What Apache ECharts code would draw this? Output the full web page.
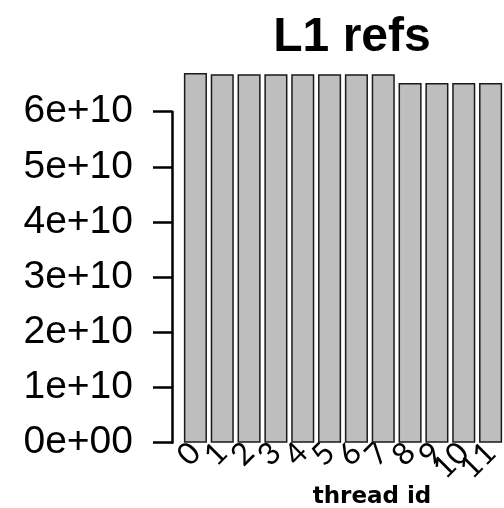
<!DOCTYPE html>
<html>
<head>
<meta charset="utf-8">
<script src="https://cdn.jsdelivr.net/npm/echarts@6/dist/echarts.min.js"></script>
<style>
  html, body { margin: 0; padding: 0; background: #ffffff; }
  #chart { width: 504px; height: 508px; }
</style>
</head>
<body>
<div id="chart"></div>
<script>
// L1 cache references per thread
const threadIds = ['0', '1', '2', '3', '4', '5', '6', '7', '8', '9', '10', '11'];
const l1Refs = [6.70e10, 6.68e10, 6.68e10, 6.68e10, 6.68e10, 6.68e10, 6.68e10, 6.68e10,
                6.52e10, 6.52e10, 6.52e10, 6.52e10];
const yTickValues = [0, 1e10, 2e10, 3e10, 4e10, 5e10, 6e10];
const yTickLabels = ['0e+00', '1e+10', '2e+10', '3e+10', '4e+10', '5e+10', '6e+10'];

const chart = echarts.init(document.getElementById('chart'), null, { renderer: 'canvas' });

chart.setOption({
  animation: false,
  backgroundColor: '#ffffff',
  title: [
    {
      text: 'L1 refs',
      left: 347, top: 9, textAlign: 'center',
      textStyle: { fontFamily: 'Liberation Sans', fontWeight: 'bold', fontSize: 48, color: '#000' }
    },
    {
      text: 'thread id',
      left: 367, top: 481, textAlign: 'center',
      textStyle: { fontFamily: 'DejaVu Sans', fontWeight: 'bold', fontSize: 23, color: '#000' }
    }
  ],
  grid: { left: 182, right: -6, top: 111.7, bottom: 65.3, containLabel: false },
  xAxis: {
    type: 'category',
    data: threadIds,
    axisLine: { show: false },
    axisTick: { show: false },
    axisLabel: {
      interval: 0, rotate: 45, margin: 5,
      fontFamily: 'Lato', fontSize: 31, color: '#000'
    },
    splitLine: { show: false }
  },
  yAxis: {
    type: 'value',
    min: 0, max: 6e10, interval: 1e10,
    offset: 10,
    axisLine: { show: true, lineStyle: { color: '#000', width: 2.5 } },
    axisTick: { show: true, inside: false, length: 19, lineStyle: { color: '#000', width: 2.5 } },
    axisLabel: {
      margin: 39,
      fontFamily: 'Liberation Sans', fontSize: 39, color: '#000',
      formatter: function (v) {
        const i = yTickValues.indexOf(v);
        return i >= 0 ? yTickLabels[i] : '';
      }
    },
    splitLine: { show: false }
  },
  series: [{
    type: 'bar',
    data: l1Refs,
    clip: false,
    barCategoryGap: '14%',
    itemStyle: { color: '#bebebe', borderColor: '#1a1a1a', borderWidth: 1.5 }
  }]
});
</script>
</body>
</html>
